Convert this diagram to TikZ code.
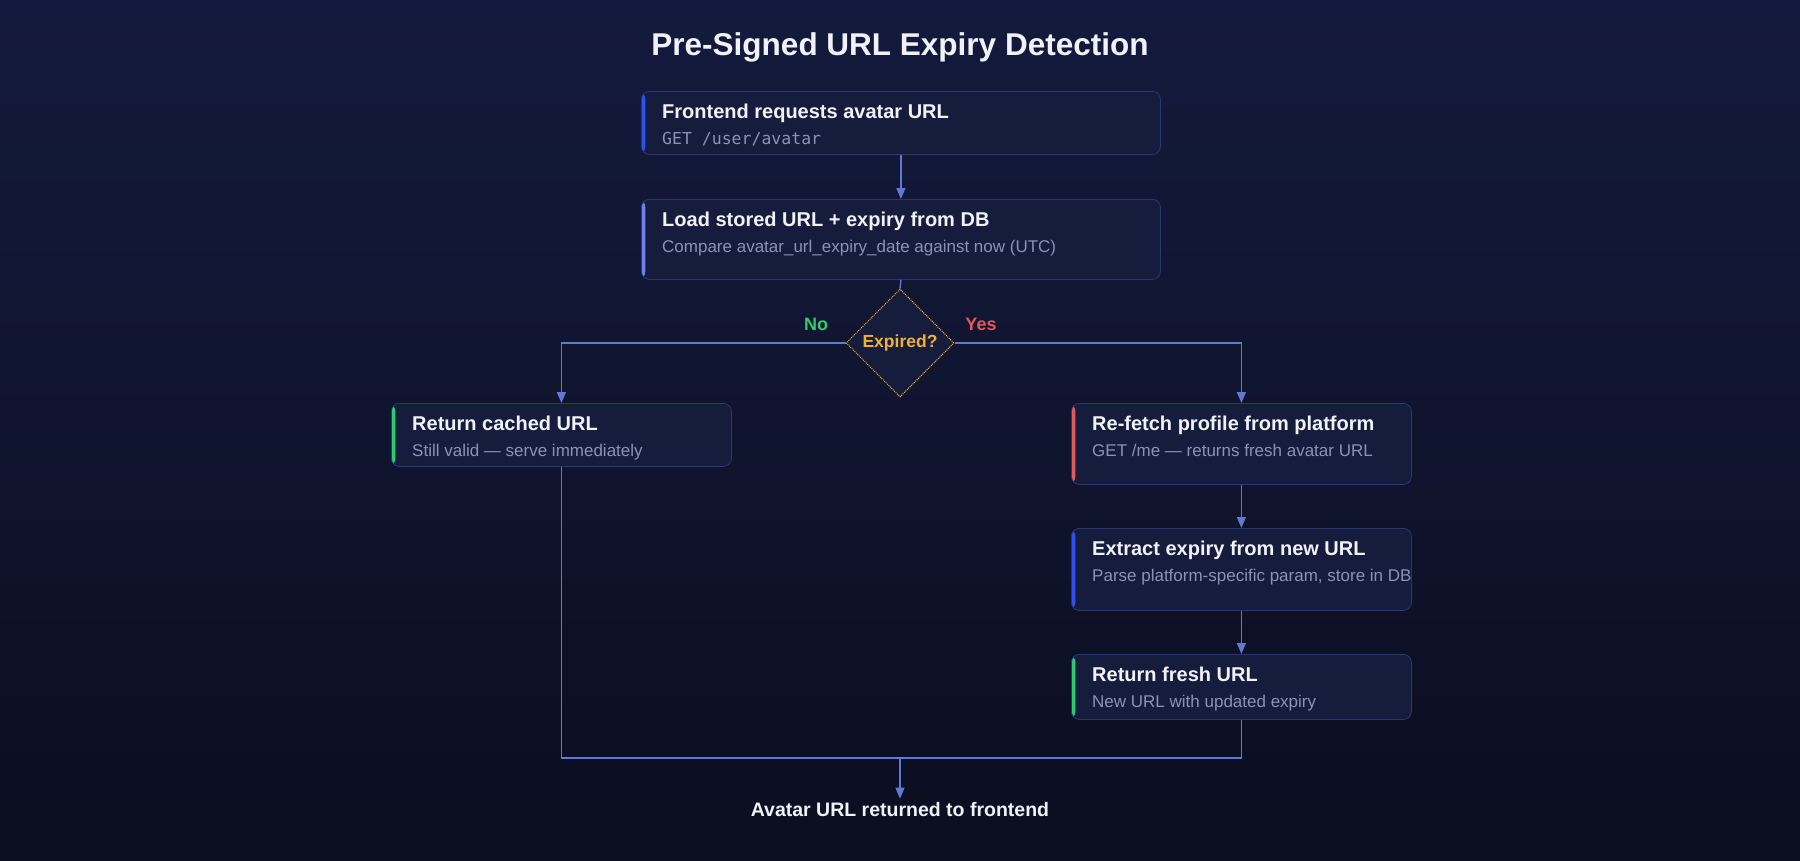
\documentclass[tikz,border=0pt]{standalone}
\usepackage{fontspec}
\setmainfont{Liberation Sans}
\setmonofont{DejaVu Sans Mono}
\usepackage{tikz}
\usetikzlibrary{arrows.meta, positioning, shapes.geometric, calc}
\usepackage{xcolor}

\definecolor{bgtop}{HTML}{141A3D}
\definecolor{bgbot}{HTML}{0B0E20}
\definecolor{boxfill}{HTML}{161C3C}
\definecolor{boxline}{HTML}{2C3672}
\definecolor{flowcol}{HTML}{6478D0}
\definecolor{subtext}{HTML}{8B92B5}
\definecolor{headtext}{HTML}{F0F2FA}
\definecolor{accblue}{HTML}{2F4FF0}
\definecolor{acclight}{HTML}{7080F0}
\definecolor{accgreen}{HTML}{2ECC71}
\definecolor{accred}{HTML}{E05A5A}
\definecolor{askcol}{HTML}{F5B030}

\begin{document}
\begin{tikzpicture}[x=1pt, y=-1pt,
    box/.style={draw=boxline, line width=0.8pt, fill=boxfill, rounded corners=8pt,
        anchor=north west, inner sep=0pt, minimum width=340pt,
        path picture={\fill[#1] (path picture bounding box.north west)
            rectangle ([xshift=4pt]path picture bounding box.south west);}},
    head/.style={anchor=base west, inner sep=0pt, text=headtext,
        font=\fontsize{20}{24}\selectfont\bfseries},
    sub/.style={anchor=base west, inner sep=0pt, text=subtext,
        font=\fontsize{17}{20}\selectfont},
    flow/.style={draw=flowcol, line width=1.4pt, -{Triangle[length=11pt, width=9pt]}},
    link/.style={draw=flowcol, line width=1.4pt}]

    % background and page size
    \fill[top color=bgtop, bottom color=bgbot] (0,0) rectangle (1800,860);
    \useasboundingbox (0,0) rectangle (1800,860);

    \node[text=headtext, font=\fontsize{31.5}{36}\selectfont\bfseries, anchor=base]
        (title) at (900,55) {Pre-Signed URL Expiry Detection};

    % main column
    \node[box=accblue, minimum width=519pt, minimum height=63pt] (req) at (641,91) {};
    \node[head] (req-t) at ([shift={(21pt,-27pt)}]req.north west) {Frontend requests avatar URL};
    \node[sub, font=\fontsize{16.5}{20}\selectfont\ttfamily] (req-s) at ([shift={(21pt,-53pt)}]req.north west) {GET /user/avatar};

    \node[box=acclight, minimum width=519pt, minimum height=80pt] (load) at (641,199) {};
    \node[head] (load-t) at ([shift={(21pt,-27pt)}]load.north west) {Load stored URL + expiry from DB};
    \node[sub] (load-s) at ([shift={(21pt,-53pt)}]load.north west) {Compare avatar\_url\_expiry\_date against now (UTC)};

    \node[diamond, draw=askcol, densely dotted, line width=1pt, fill=boxfill,
        minimum width=108pt, minimum height=108pt, inner sep=0pt,
        text=askcol, font=\fontsize{17.5}{20}\selectfont\bfseries] (ask) at (900,343) {Expired?};

    % no branch
    \node[box=accgreen, minimum height=63pt] (cached) at (391,403) {};
    \node[head] (cached-t) at ([shift={(21pt,-27pt)}]cached.north west) {Return cached URL};
    \node[sub] (cached-s) at ([shift={(21pt,-53pt)}]cached.north west) {Still valid --- serve immediately};

    % yes branch
    \node[box=accred, minimum height=81pt] (refetch) at (1071,403) {};
    \node[head] (refetch-t) at ([shift={(21pt,-27pt)}]refetch.north west) {Re-fetch profile from platform};
    \node[sub] (refetch-s) at ([shift={(21pt,-53pt)}]refetch.north west) {GET /me --- returns fresh avatar URL};

    \node[box=accblue, minimum height=82pt] (extract) at (1071,528) {};
    \node[head] (extract-t) at ([shift={(21pt,-27pt)}]extract.north west) {Extract expiry from new URL};
    \node[sub] (extract-s) at ([shift={(21pt,-53pt)}]extract.north west) {Parse platform-specific param, store in DB};

    \node[box=accgreen, minimum height=65pt] (fresh) at (1071,654) {};
    \node[head] (fresh-t) at ([shift={(21pt,-27pt)}]fresh.north west) {Return fresh URL};
    \node[sub] (fresh-s) at ([shift={(21pt,-53pt)}]fresh.north west) {New URL with updated expiry};

    \node[text=accgreen, font=\fontsize{18}{20}\selectfont\bfseries, anchor=base] (no) at (816,330) {No};
    \node[text=accred, font=\fontsize{18}{20}\selectfont\bfseries, anchor=base] (yes) at (981,330) {Yes};

    \node[text=headtext, font=\fontsize{19.5}{22}\selectfont\bfseries, anchor=base, inner sep=3pt]
        (done) at (900,816) {Avatar URL returned to frontend};
    \coordinate (merge) at (900,758);

    % connectors
    \draw[flow] (req.south) -- (load.north);
    \draw[link] (load.south) -- (ask.north);
    \draw[flow] (ask.west) -| (cached.north);
    \draw[flow] (ask.east) -| (refetch.north);
    \draw[flow] (refetch.south) -- (extract.north);
    \draw[flow] (extract.south) -- (fresh.north);
    \draw[link, line width=1.1pt] (cached.south) |- (merge) -| (fresh.south);
    \draw[flow] (merge) -- (done.north);
\end{tikzpicture}
\end{document}
